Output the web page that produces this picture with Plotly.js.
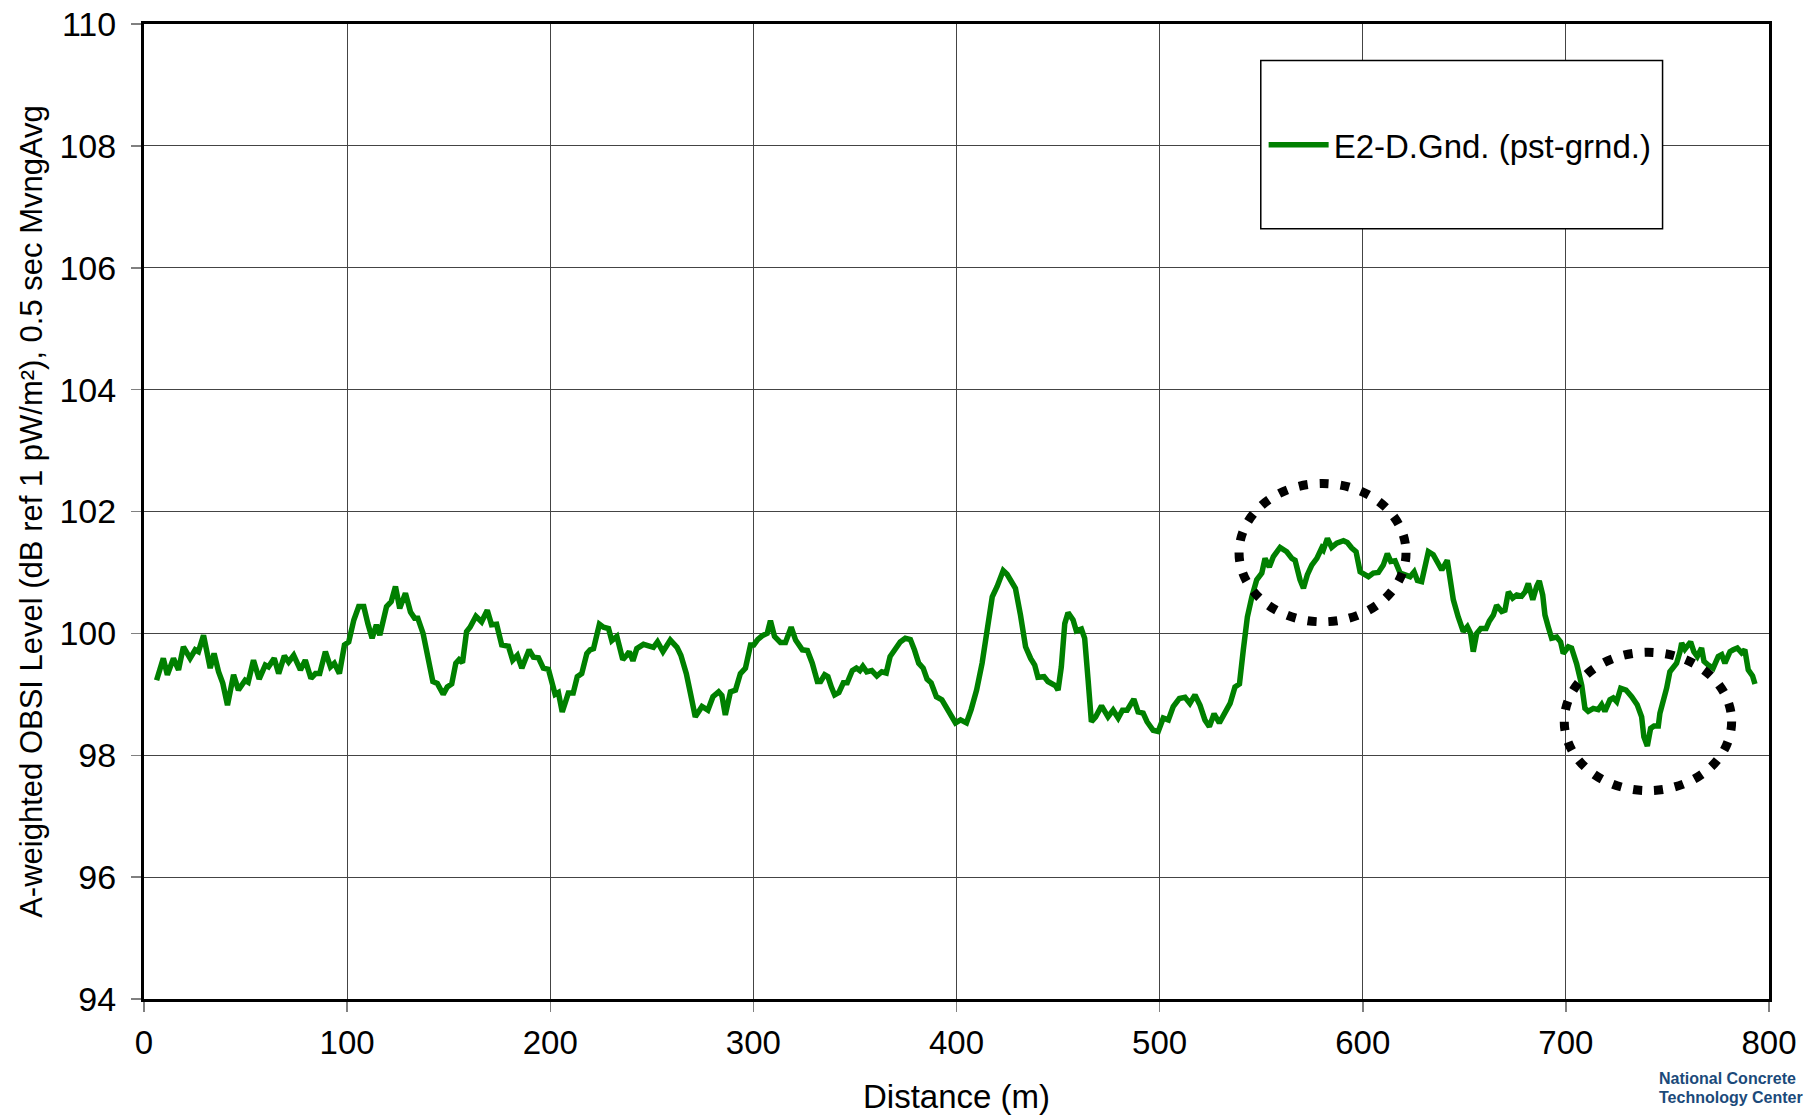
<!DOCTYPE html>
<html>
<head>
<meta charset="utf-8">
<script src="https://cdn.plot.ly/plotly-3.0.1.min.js"></script>
<style>html,body{margin:0;padding:0;background:#fff;}#chart{width:1809px;height:1115px;}</style>
</head>
<body>
<div id="chart"></div>
<script>
// Distance (m)
const distance = [
6.2,9.5,11.5,14.5,17.0,19.4,22.7,25.2,26.8,29.3,32.6,34.5,36.7,38.8,41.1,44.1,46.5,49.8,51.3,53.9,
56.7,59.7,61.3,64.1,66.3,69.1,71.2,73.7,77.0,79.4,82.2,84.4,86.5,89.3,91.8,93.7,96.2,98.7,100.8,103.3,
105.7,108.2,110.2,112.3,114.4,116.1,119.4,121.7,123.8,125.9,128.7,131.2,133.2,134.8,137.4,140.0,142.2,144.4,147.3,149.3,
151.5,153.5,155.1,156.8,158.8,160.5,163.4,166.2,169.0,171.1,173.6,176.1,179.4,181.5,183.8,186.0,189.6,191.7,194.2,196.6,
199.1,202.4,204.0,205.9,208.9,211.3,213.3,215.5,218.0,219.6,221.3,224.2,226.2,228.7,230.3,232.8,235.7,237.6,238.9,240.7,
242.6,245.9,250.8,252.8,255.5,259.1,262.4,264.3,267.0,269.0,271.4,274.7,277.6,280.1,282.9,284.5,286.2,288.7,291.2,293.6,
296.1,298.6,300.2,302.2,304.3,306.8,308.4,310.4,313.3,315.8,318.6,320.8,324.1,326.6,329.0,331.5,333.1,335.1,336.7,338.4,
340.0,342.1,344.3,346.2,348.7,350.7,352.4,353.9,355.8,358.3,360.8,363.2,365.4,367.3,369.9,372.3,374.8,377.3,379.3,381.4,
383.6,385.5,387.5,390.1,392.8,395.4,397.4,399.5,402.0,404.9,407.2,409.9,412.6,415.1,417.6,420.0,423.0,424.9,427.4,429.0,
431.5,434.0,436.5,438.5,440.1,443.1,445.0,447.2,448.8,450.0,451.6,453.3,454.9,457.4,459.0,461.5,463.1,464.8,466.4,468.5,
471.4,474.6,477.1,479.6,481.7,484.0,487.3,489.4,491.9,493.8,496.8,499.3,501.8,504.3,506.7,509.7,512.5,514.9,517.4,519.9,
522.3,524.5,526.8,529.4,532.2,534.7,537.1,539.3,541.2,543.2,545.4,547.8,550.3,551.9,554.0,556.0,559.3,562.6,565.1,566.7,
569.1,570.8,572.7,574.9,577.4,579.8,580.6,582.6,584.7,587.2,590.5,592.4,594.6,596.7,598.7,600.6,602.8,605.2,607.7,610.1,
612.1,613.8,615.9,618.4,620.8,623.3,625.3,626.9,629.0,630.7,632.3,634.7,636.7,638.9,641.6,643.3,644.6,647.0,649.5,651.5,
653.1,654.4,656.1,658.1,660.7,662.3,664.3,665.9,668.4,670.0,671.7,673.8,675.8,678.2,679.9,681.5,683.7,685.6,686.9,688.6,
689.7,691.3,693.0,695.5,697.4,698.7,701.2,702.8,705.3,707.8,709.4,711.0,713.5,715.9,717.6,719.2,721.7,723.3,725.0,727.0,
729.6,732.4,735.1,737.3,738.4,740.1,741.7,743.4,745.5,746.3,748.3,749.6,751.2,752.9,754.5,756.2,757.0,758.6,761.4,763.0,
764.7,766.8,768.0,770.1,772.5,775.0,776.7,778.3,780.8,782.4,784.4,786.5,788.1,789.8,791.9,793.1
];
// A-weighted OBSI level (dB)
const level = [
99.23,99.59,99.32,99.59,99.40,99.78,99.59,99.73,99.70,99.97,99.43,99.67,99.37,99.18,98.82,99.32,99.07,99.23,99.20,99.56,
99.25,99.48,99.45,99.59,99.34,99.63,99.53,99.64,99.40,99.56,99.26,99.34,99.34,99.70,99.45,99.51,99.34,99.81,99.86,100.22,
100.44,100.44,100.16,99.92,100.14,99.97,100.44,100.52,100.77,100.41,100.66,100.35,100.25,100.25,100.00,99.50,99.21,99.18,99.00,99.12,
99.17,99.51,99.57,99.52,100.03,100.10,100.28,100.19,100.38,100.14,100.15,99.81,99.79,99.56,99.64,99.43,99.73,99.61,99.60,99.43,
99.41,99.00,99.03,98.71,99.02,99.02,99.29,99.34,99.67,99.73,99.75,100.15,100.10,100.08,99.88,99.95,99.57,99.64,99.70,99.55,
99.75,99.82,99.77,99.86,99.70,99.89,99.77,99.64,99.34,99.02,98.63,98.80,98.74,98.96,99.04,98.98,98.66,99.04,99.07,99.34,
99.43,99.81,99.81,99.90,99.96,100.00,100.21,99.95,99.85,99.85,100.10,99.89,99.73,99.72,99.51,99.21,99.21,99.32,99.29,99.12,
98.99,99.03,99.19,99.19,99.39,99.43,99.39,99.46,99.37,99.39,99.30,99.37,99.35,99.62,99.75,99.86,99.92,99.90,99.73,99.51,
99.43,99.25,99.19,98.96,98.91,98.75,98.66,98.53,98.58,98.53,98.75,99.07,99.51,100.12,100.60,100.77,101.03,100.97,100.81,100.74,
100.30,99.78,99.59,99.48,99.28,99.29,99.21,99.17,99.14,99.07,99.45,100.16,100.34,100.22,100.04,100.07,99.92,99.23,98.55,98.63,
98.81,98.63,98.74,98.61,98.74,98.74,98.92,98.71,98.69,98.55,98.41,98.39,98.61,98.58,98.80,98.93,98.95,98.85,98.99,98.82,
98.58,98.47,98.68,98.53,98.68,98.85,99.12,99.17,99.73,100.27,100.60,100.88,100.99,101.23,101.09,101.26,101.41,101.34,101.23,101.20,
100.88,100.74,100.96,101.12,101.23,101.40,101.37,101.56,101.41,101.48,101.52,101.49,101.40,101.34,101.01,100.96,100.93,100.99,101.00,101.12,
101.31,101.18,101.19,100.99,100.96,100.93,101.01,100.87,100.85,101.12,101.34,101.29,101.15,101.04,101.20,100.85,100.55,100.27,100.03,100.11,
100.00,99.70,100.00,100.08,100.08,100.20,100.30,100.46,100.36,100.38,100.68,100.58,100.63,100.61,100.68,100.82,100.55,100.77,100.86,100.63,
100.30,100.11,99.92,99.94,99.86,99.67,99.78,99.76,99.50,99.15,98.77,98.72,98.77,98.75,98.83,98.72,98.91,98.94,98.88,99.10,
99.07,98.96,98.83,98.63,98.30,98.15,98.44,98.48,98.48,98.69,98.91,99.10,99.37,99.45,99.51,99.70,99.84,99.74,99.86,99.70,
99.62,99.76,99.54,99.48,99.43,99.62,99.65,99.51,99.70,99.73,99.76,99.68,99.73,99.40,99.30,99.17
];
const xTicks = [0,100,200,300,400,500,600,700,800];
const yTicks = [94,96,98,100,102,104,106,108,110];
const seriesName = 'E2-D.Gnd. (pst-grnd.)';
const xTitle = 'Distance (m)';
const yTitle = 'A-weighted OBSI Level (dB ref 1 pW/m²), 0.5 sec MvngAvg';
// highlighted regions [x0, x1, y0, y1]
const ring1 = [539.1, 621.3, 100.19, 102.46];
const ring2 = [699.2, 781.6, 97.42, 99.69];
const legendBox = [549.8, 747.6, 106.64, 109.40];

const FONT = 'Liberation Sans, Arial, sans-serif';

const trace = {
  x: distance, y: level, type: 'scatter', mode: 'lines', name: seriesName,
  line: {color: '#008000', width: 5.5}
};

function ring(r) {
  return {type: 'circle', xref: 'x', yref: 'y', x0: r[0], x1: r[1], y0: r[2], y1: r[3],
    line: {color: '#000', width: 9, dash: '9px,12px'}, layer: 'above'};
}

const layout = {
  width: 1809, height: 1115,
  margin: {l: 143.5, r: 40, t: 24, b: 116, pad: 0},
  paper_bgcolor: '#fff', plot_bgcolor: '#fff',
  font: {family: FONT, size: 33, color: '#000'},
  showlegend: true,
  legend: {x: 0.689, y: 0.876, xanchor: 'left', yanchor: 'middle', bgcolor: 'rgba(0,0,0,0)',
    borderwidth: 0, font: {family: FONT, size: 33, color: '#000'}, itemwidth: 60},
  xaxis: {
    range: [0, 800], tickvals: xTicks, ticktext: xTicks.map(String),
    showgrid: true, gridcolor: '#444', gridwidth: 1, zeroline: false,
    showline: true, linecolor: '#000', linewidth: 3, mirror: true,
    ticks: 'outside', ticklen: 10, tickwidth: 1.5, tickcolor: '#808080',
    ticklabelstandoff: 2,
    tickfont: {family: FONT, size: 33, color: '#000'},
    title: {text: xTitle, font: {family: FONT, size: 33, color: '#000'}, standoff: 26}
  },
  yaxis: {
    range: [94, 110], tickvals: yTicks, ticktext: yTicks.map(String),
    showgrid: true, gridcolor: '#444', gridwidth: 1, zeroline: false,
    showline: true, linecolor: '#000', linewidth: 3, mirror: true,
    ticks: 'outside', ticklen: 10, tickwidth: 1.5, tickcolor: '#808080',
    ticklabelstandoff: 8,
    tickfont: {family: FONT, size: 34, color: '#000'},
    title: {text: yTitle, font: {family: FONT, size: 31, color: '#000'}, standoff: 8}
  },
  shapes: [
    {type: 'rect', xref: 'x', yref: 'y', x0: legendBox[0], x1: legendBox[1], y0: legendBox[2], y1: legendBox[3],
      fillcolor: '#fff', line: {color: '#000', width: 1.5}, layer: 'above'},
    ring(ring1), ring(ring2)
  ],
  annotations: [
    {xref: 'paper', yref: 'paper', x: 0.931, y: -0.082, xanchor: 'left', yanchor: 'middle', showarrow: false,
      text: '<b>National Concrete</b>', font: {family: FONT, size: 16, color: '#1b4a7a'}},
    {xref: 'paper', yref: 'paper', x: 0.931, y: -0.101, xanchor: 'left', yanchor: 'middle', showarrow: false,
      text: '<b>Technology Center</b>', font: {family: FONT, size: 16, color: '#1b4a7a'}}
  ]
};

Plotly.newPlot('chart', [trace], layout, {displayModeBar: false, staticPlot: true});
</script>
</body>
</html>
